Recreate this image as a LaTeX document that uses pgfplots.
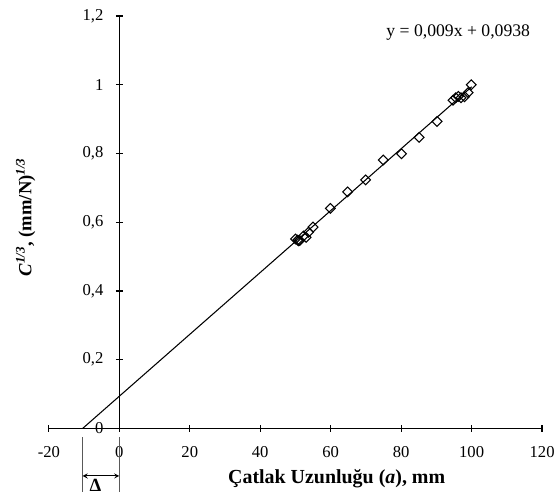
\documentclass[border=0pt]{standalone}
\usepackage{pgfplots}
\pgfplotsset{compat=1.18}
\usepackage{fontspec}
\setmainfont{Liberation Serif}
\begin{document}
\begin{tikzpicture}
\begin{axis}[
  scale only axis,
  width=371.25pt, height=310.5pt,
  xmin=-20, xmax=120, ymin=0, ymax=1.2,
  axis x line=middle, axis y line=middle,
  axis line style={-, line width=1.1pt},
  xtick={-20,0,20,40,60,80,100,120},
  ytick={0,0.2,0.4,0.6,0.8,1,1.2},
  hide obscured x ticks=false, hide obscured y ticks=false,
  tick align=center, major tick length=5pt,
  tick style={line width=1pt, black},
  /pgf/number format/assume math mode=true,
  /pgf/number format/use comma,
  ticklabel style={font=\fontsize{12.5}{14}\selectfont},
  xticklabel style={yshift=-7.5pt},
  yticklabel style={xshift=-6pt},
  clip=false,
  xlabel={\textbf{Çatlak Uzunluğu (\textit{a}), mm}},
  xlabel style={at={(axis cs:61.7,-0.147)}, anchor=center, font=\fontsize{15}{17}\selectfont},
  ylabel={\textbf{\textit{C}\textsuperscript{\textit{1/3}}, (mm/N)\textsuperscript{\textit{1/3}}}},
  ylabel style={at={(axis description cs:-0.047,0.512)}, rotate=90, anchor=center, font=\fontsize{14}{16}\selectfont},
]
\addplot[black, line width=0.8pt] coordinates {(-10.4222,0) (100,0.9938)};
\addplot[only marks, mark=square, mark size=2.6pt, mark options={rotate=45, black, line width=0.8pt, fill=white}] coordinates {
(50.0,0.551) (50.6,0.548) (51.2,0.547) (50.9,0.546) (52.3,0.560) (53.0,0.556) (53.7,0.571) (55.0,0.586)
(59.9,0.640) (64.8,0.688) (69.9,0.723) (74.9,0.781) (80.1,0.799) (85.1,0.847)
(90.2,0.893) (94.7,0.955) (95.5,0.962) (96.2,0.966) (97.0,0.962) (98.0,0.965) (99.0,0.977) (99.9,1.000)
};
\node[font=\fontsize{13.3}{15}\selectfont] at (axis cs:96.2,1.151) {y = 0,009x + 0,0938};
\draw[gray!70!black, line width=0.6pt] (axis cs:-10.42,-0.026) -- (axis cs:-10.42,-0.186);
\draw[gray!70!black, line width=0.6pt] (axis cs:0,-0.026) -- (axis cs:0,-0.186);
\draw[<->, >=stealth, line width=0.7pt] (axis cs:-10.42,-0.138) -- (axis cs:0,-0.138);
\node[font=\fontsize{14}{15}\selectfont\bfseries, inner sep=1pt] at (axis cs:-6.8,-0.166) {Δ};
\end{axis}
\path (-36.75pt,-56.25pt) rectangle (382.5pt,322.5pt);
\end{tikzpicture}
\end{document}
